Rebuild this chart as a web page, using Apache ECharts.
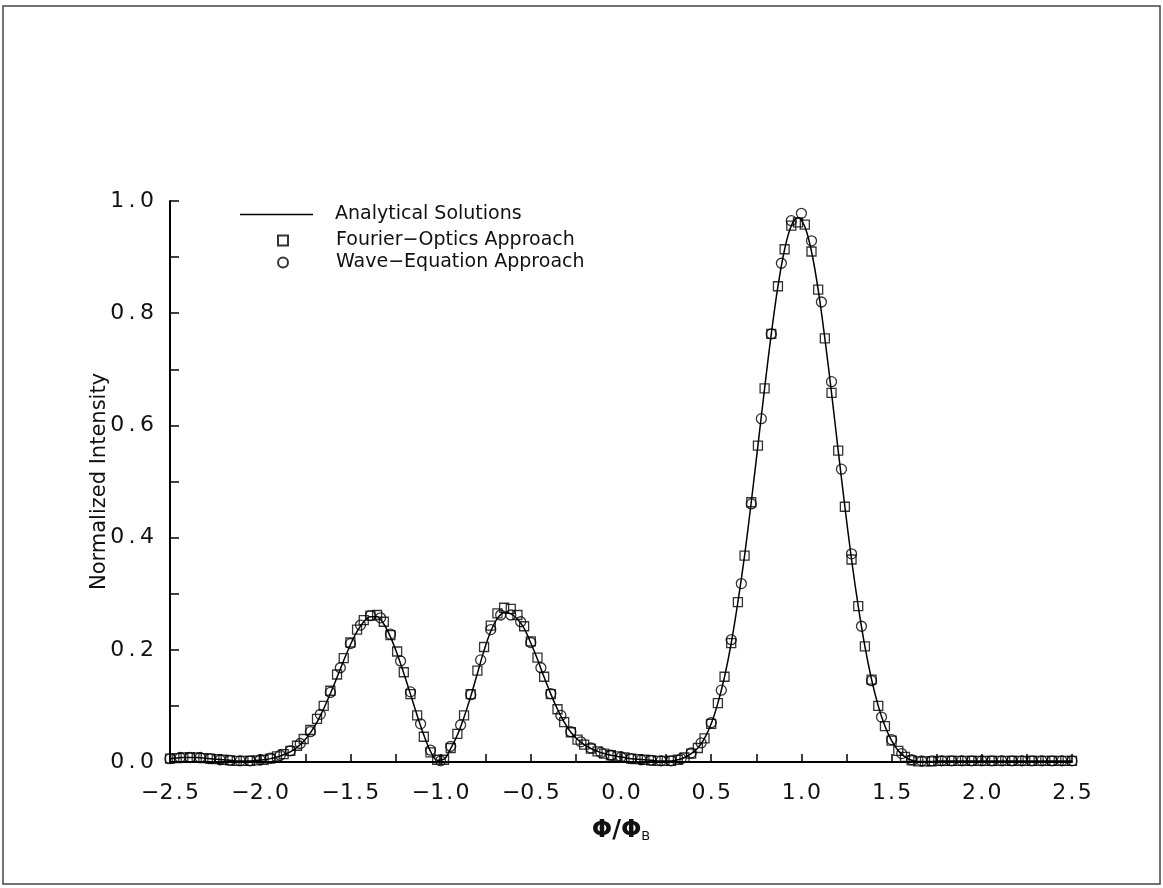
<!DOCTYPE html>
<html>
<head>
<meta charset="utf-8">
<script src="https://cdn.jsdelivr.net/npm/echarts@6/dist/echarts.min.js"></script>
<style>
  html, body { margin: 0; padding: 0; background: #fff; }
  #chart { width: 1163px; height: 888px; }
</style>
</head>
<body>
<div id="chart"></div>
<script>
// 采样点位置（方块 / 解析解）
const phiSq = [
  -2.500, -2.463, -2.426, -2.389, -2.352, -2.315, -2.278, -2.241, -2.204, -2.167,
  -2.130, -2.093, -2.056, -2.019, -1.981, -1.944, -1.907, -1.870, -1.833, -1.796,
  -1.759, -1.722, -1.685, -1.648, -1.611, -1.574, -1.537, -1.500, -1.463, -1.426,
  -1.389, -1.352, -1.315, -1.278, -1.241, -1.204, -1.167, -1.130, -1.093, -1.056,
  -1.019, -0.981, -0.944, -0.907, -0.870, -0.833, -0.796, -0.759, -0.722, -0.685,
  -0.648, -0.611, -0.574, -0.537, -0.500, -0.463, -0.426, -0.389, -0.352, -0.315,
  -0.278, -0.241, -0.204, -0.167, -0.130, -0.093, -0.056, -0.019, 0.019, 0.056,
  0.093, 0.130, 0.167, 0.204, 0.241, 0.278, 0.315, 0.352, 0.389, 0.426,
  0.463, 0.500, 0.537, 0.574, 0.611, 0.648, 0.685, 0.722, 0.759, 0.796,
  0.833, 0.870, 0.907, 0.944, 0.981, 1.019, 1.056, 1.093, 1.130, 1.167,
  1.204, 1.241, 1.278, 1.315, 1.352, 1.389, 1.426, 1.463, 1.500, 1.537,
  1.574, 1.611, 1.648, 1.685, 1.722, 1.759, 1.796, 1.833, 1.870, 1.907,
  1.944, 1.981, 2.019, 2.056, 2.093, 2.130, 2.167, 2.204, 2.241, 2.278,
  2.315, 2.352, 2.389, 2.426, 2.463, 2.500
]

// Analytical Solutions
const analytic = [
  0.006, 0.007, 0.008, 0.008, 0.008, 0.007, 0.006, 0.005, 0.004, 0.003,
  0.002, 0.002, 0.002, 0.003, 0.004, 0.006, 0.009, 0.013, 0.018, 0.026,
  0.037, 0.052, 0.071, 0.095, 0.122, 0.151, 0.181, 0.209, 0.233, 0.250,
  0.259, 0.259, 0.246, 0.223, 0.193, 0.158, 0.121, 0.083, 0.048, 0.019,
  0.003, 0.005, 0.024, 0.048, 0.080, 0.117, 0.158, 0.199, 0.233, 0.256,
  0.266, 0.264, 0.255, 0.238, 0.212, 0.183, 0.151, 0.121, 0.094, 0.071,
  0.053, 0.040, 0.031, 0.024, 0.019, 0.015, 0.012, 0.010, 0.008, 0.006,
  0.005, 0.004, 0.003, 0.002, 0.002, 0.002, 0.004, 0.008, 0.015, 0.025,
  0.042, 0.068, 0.105, 0.152, 0.212, 0.285, 0.368, 0.463, 0.564, 0.666,
  0.763, 0.848, 0.914, 0.956, 0.970, 0.954, 0.910, 0.842, 0.755, 0.658,
  0.555, 0.455, 0.361, 0.278, 0.206, 0.147, 0.100, 0.064, 0.038, 0.020,
  0.009, 0.003, 0.001, 0.001, 0.001, 0.002, 0.002, 0.002, 0.002, 0.002,
  0.002, 0.002, 0.002, 0.002, 0.002, 0.002, 0.002, 0.002, 0.002, 0.002,
  0.002, 0.002, 0.002, 0.002, 0.002, 0.002
]

// Fourier-Optics Approach (方块)
const fourier = [
  0.006, 0.007, 0.008, 0.008, 0.008, 0.007, 0.006, 0.005, 0.004, 0.003,
  0.002, 0.002, 0.002, 0.003, 0.004, 0.006, 0.010, 0.014, 0.020, 0.029,
  0.041, 0.057, 0.077, 0.100, 0.127, 0.156, 0.185, 0.213, 0.236, 0.253,
  0.261, 0.262, 0.250, 0.226, 0.197, 0.160, 0.121, 0.083, 0.045, 0.017,
  0.004, 0.004, 0.025, 0.050, 0.083, 0.121, 0.163, 0.205, 0.243, 0.265,
  0.275, 0.273, 0.262, 0.242, 0.215, 0.186, 0.152, 0.121, 0.094, 0.071,
  0.053, 0.040, 0.031, 0.024, 0.019, 0.015, 0.012, 0.010, 0.008, 0.006,
  0.005, 0.004, 0.003, 0.002, 0.002, 0.002, 0.004, 0.008, 0.015, 0.025,
  0.042, 0.068, 0.105, 0.152, 0.212, 0.285, 0.368, 0.463, 0.564, 0.666,
  0.763, 0.848, 0.914, 0.956, 0.962, 0.958, 0.910, 0.842, 0.755, 0.658,
  0.555, 0.455, 0.361, 0.278, 0.206, 0.147, 0.100, 0.064, 0.038, 0.020,
  0.009, 0.003, 0.001, 0.001, 0.001, 0.002, 0.002, 0.002, 0.002, 0.002,
  0.002, 0.002, 0.002, 0.002, 0.002, 0.002, 0.002, 0.002, 0.002, 0.002,
  0.002, 0.002, 0.002, 0.002, 0.002, 0.002
]

// Wave-Equation Approach (圆圈)
const phiWave = [
  -2.500, -2.444, -2.389, -2.333, -2.278, -2.222, -2.167, -2.111, -2.056, -2.000,
  -1.944, -1.889, -1.833, -1.778, -1.722, -1.667, -1.611, -1.556, -1.500, -1.444,
  -1.389, -1.333, -1.278, -1.222, -1.167, -1.111, -1.056, -1.000, -0.944, -0.889,
  -0.833, -0.778, -0.722, -0.667, -0.611, -0.556, -0.500, -0.444, -0.389, -0.333,
  -0.278, -0.222, -0.167, -0.111, -0.056, 0.000, 0.056, 0.111, 0.167, 0.222,
  0.278, 0.333, 0.389, 0.444, 0.500, 0.556, 0.611, 0.667, 0.722, 0.778,
  0.833, 0.889, 0.944, 1.000, 1.056, 1.111, 1.167, 1.222, 1.278, 1.333,
  1.389, 1.444, 1.500, 1.556, 1.611, 1.667, 1.722, 1.778, 1.833, 1.889,
  1.944, 2.000, 2.056, 2.111, 2.167, 2.222, 2.278, 2.333, 2.389, 2.444,
  2.500
]
const wave = [
  0.006, 0.008, 0.008, 0.008, 0.006, 0.004, 0.003, 0.002, 0.002, 0.004,
  0.007, 0.012, 0.020, 0.033, 0.054, 0.085, 0.124, 0.168, 0.211, 0.244,
  0.261, 0.257, 0.228, 0.180, 0.125, 0.068, 0.021, 0.002, 0.028, 0.066,
  0.120, 0.182, 0.236, 0.262, 0.262, 0.250, 0.213, 0.168, 0.122, 0.083,
  0.054, 0.036, 0.025, 0.017, 0.012, 0.009, 0.006, 0.004, 0.003, 0.002,
  0.002, 0.006, 0.016, 0.034, 0.070, 0.128, 0.218, 0.318, 0.460, 0.612,
  0.763, 0.889, 0.965, 0.978, 0.929, 0.820, 0.678, 0.522, 0.371, 0.242,
  0.145, 0.080, 0.040, 0.015, 0.004, 0.002, 0.002, 0.002, 0.002, 0.002,
  0.002, 0.002, 0.002, 0.002, 0.002, 0.002, 0.002, 0.002, 0.002, 0.002,
  0.002
]

const seriesNames = ['Analytical Solutions', 'Fourier\u2212Optics Approach', 'Wave\u2212Equation Approach']

const FONT = "'DejaVu Sans', sans-serif"
const pairs = (xs, ys) => xs.map((x, i) => [x, ys[i]])
const fmtNum = (v, gap) => {
  const s = Math.abs(v).toFixed(1).split('').join(gap)
  return (v < -1e-9 ? '\u2212' : '') + s
}

const chart = echarts.init(document.getElementById('chart'))

const legendText = { fontFamily: FONT, fontSize: 19, color: '#111' }

const option = {
  animation: false,
  backgroundColor: '#fff',
  grid: { left: 170, right: 91, top: 201, bottom: 126 },
  legend: [
    {
      data: [{ name: seriesNames[0], icon: 'rect' }],
      left: 235, top: 200,
      itemWidth: 73, itemHeight: 1.5,
      itemStyle: { color: '#000', borderWidth: 0 },
      textStyle: Object.assign({ padding: [0, 0, 0, 17] }, legendText)
    },
    {
      data: [seriesNames[1]],
      left: 272, top: 226,
      itemWidth: 10, itemHeight: 10,
      textStyle: Object.assign({ padding: [0, 0, 0, 43] }, legendText)
    },
    {
      data: [seriesNames[2]],
      left: 272, top: 248,
      itemWidth: 10, itemHeight: 10,
      textStyle: Object.assign({ padding: [0, 0, 0, 43] }, legendText)
    }
  ],
  xAxis: {
    type: 'value',
    min: -2.5, max: 2.5, interval: 0.25,
    name: '{p|\u03A6/\u03A6}{s|B}',
    nameLocation: 'middle',
    nameGap: 57,
    nameTextStyle: {
      rich: {
        p: { fontFamily: FONT, fontSize: 24, fontWeight: 'bold', color: '#111' },
        s: { fontFamily: FONT, fontSize: 13, color: '#111', verticalAlign: 'bottom', padding: [10, 0, 0, 0] }
      }
    },
    axisLine: { onZero: false, lineStyle: { color: '#000', width: 2 } },
    axisTick: { inside: true, length: 8, lineStyle: { color: '#000', width: 1.5 } },
    axisLabel: {
      margin: 20,
      fontFamily: FONT, fontSize: 22, color: '#111',
      formatter: v => Math.abs(v * 2 - Math.round(v * 2)) < 1e-6 ? fmtNum(v, '\u200A') : ''
    },
    splitLine: { show: false }
  },
  yAxis: {
    type: 'value',
    min: 0, max: 1, interval: 0.1,
    name: 'Normalized Intensity',
    nameLocation: 'middle',
    nameGap: 60,
    nameMoveOverlap: false,
    nameTextStyle: { fontFamily: FONT, fontSize: 21, color: '#111' },
    axisLine: { show: true, onZero: false, lineStyle: { color: '#000', width: 2 } },
    axisTick: { show: true, inside: true, length: 9, lineStyle: { color: '#000', width: 1.5 } },
    axisLabel: {
      margin: 16,
      fontFamily: FONT, fontSize: 22, color: '#111',
      formatter: v => Math.round(v * 10) % 2 === 0 ? fmtNum(v, '\u2009') : ''
    },
    splitLine: { show: false }
  },
  graphic: [
    {
      type: 'rect', silent: true,
      shape: { x: 3, y: 6, width: 1157, height: 878 },
      style: { fill: 'none', stroke: '#444', lineWidth: 1.5 }
    }
  ],
  series: [
    {
      name: seriesNames[0],
      type: 'line',
      data: pairs(phiSq, analytic),
      smooth: 0.35,
      symbol: 'none',
      lineStyle: { color: '#000', width: 1.5 },
      itemStyle: { color: '#000' },
      z: 3
    },
    {
      name: seriesNames[1],
      type: 'scatter',
      data: pairs(phiSq, fourier),
      symbol: 'rect',
      symbolSize: 9,
      itemStyle: { color: 'rgba(255,255,255,0)', borderColor: '#000', borderWidth: 1.3 },
      z: 4
    },
    {
      name: seriesNames[2],
      type: 'scatter',
      data: pairs(phiWave, wave),
      symbol: 'circle',
      symbolSize: 10,
      itemStyle: { color: 'rgba(255,255,255,0)', borderColor: '#000', borderWidth: 1.3 },
      z: 5
    }
  ]
}

chart.setOption(option)
</script>
</body>
</html>
